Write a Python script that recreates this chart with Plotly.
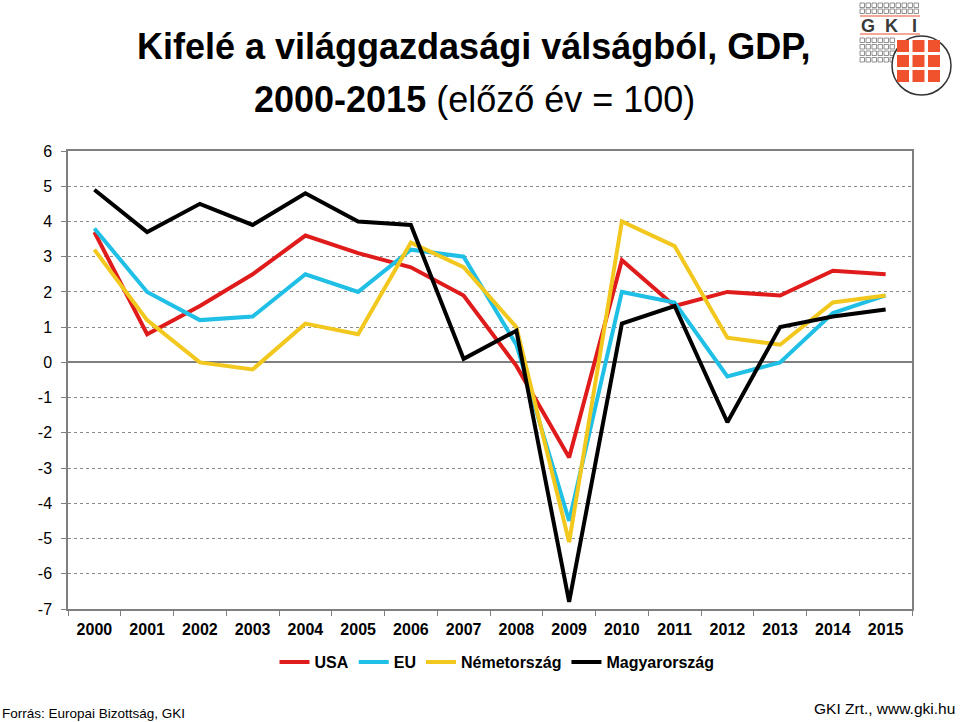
import plotly.graph_objects as go

years = [str(y) for y in range(2000, 2016)]
usa = [3.7, 0.8, 1.6, 2.5, 3.6, 3.1, 2.7, 1.9, -0.1, -2.7, 2.9, 1.6, 2.0, 1.9, 2.6, 2.5]
eu = [3.8, 2.0, 1.2, 1.3, 2.5, 2.0, 3.2, 3.0, 0.5, -4.5, 2.0, 1.7, -0.4, 0.0, 1.4, 1.9]
germany = [3.2, 1.2, 0.0, -0.2, 1.1, 0.8, 3.4, 2.7, 1.0, -5.1, 4.0, 3.3, 0.7, 0.5, 1.7, 1.9]
hungary = [4.9, 3.7, 4.5, 3.9, 4.8, 4.0, 3.9, 0.1, 0.9, -6.8, 1.1, 1.6, -1.7, 1.0, 1.3, 1.5]
y_ticks = list(range(-7, 7))
y_tick_text = [str(v) for v in y_ticks]

series = [
    ("USA", usa, "#e01b1b"),
    ("EU", eu, "#1fbfe6"),
    ("Németország", germany, "#f2c81e"),
    ("Magyarország", hungary, "#000000"),
]

FONT = "Liberation Sans, Arial, sans-serif"
W, H = 960, 722
PL, PR, PT, PB = 68, 912, 151, 609


def px(x):
    return (x - PL) / (PR - PL)


def py(y):
    return (PB - y) / (PB - PT)


fig = go.Figure()
for name, vals, col in series:
    fig.add_trace(go.Scatter(x=years, y=vals, name="<b>%s</b>" % name, mode="lines",
                             line=dict(color=col, width=4)))

fig.update_layout(
    width=W, height=H,
    margin=dict(l=PL, r=W - PR, t=PT, b=H - PB),
    paper_bgcolor="white", plot_bgcolor="white",
    showlegend=True,
    legend=dict(orientation="h", x=px(497), xanchor="center", y=py(662), yanchor="middle",
                font=dict(family=FONT, size=16, color="black"),
                itemwidth=30, traceorder="normal"),
    font=dict(family=FONT, color="black"),
)
fig.update_xaxes(type="category", range=[-0.5, len(years) - 0.5], showline=True,
                 linecolor="#7f7f7f", linewidth=1.5,
                 mirror=True, ticks="outside", tickson="boundaries", ticklen=5,
                 tickcolor="#7f7f7f", showgrid=False, ticklabelstandoff=5,
                 tickfont=dict(family=FONT, size=16, color="black"),
                 tickprefix="<b>", ticksuffix="</b>")
fig.update_yaxes(range=[-7, 6], tickvals=y_ticks, ticktext=y_tick_text, showline=True,
                 linecolor="#7f7f7f", linewidth=1.5, mirror=True, ticks="outside",
                 ticklen=5, tickcolor="#7f7f7f", showgrid=True, gridcolor="#8a8a8a",
                 griddash="dot", gridwidth=1, zeroline=True, zerolinecolor="#7f7f7f",
                 zerolinewidth=1.5, ticklabelstandoff=6,
                 tickfont=dict(family=FONT, size=16, color="black"),
                 tickprefix="<b>", ticksuffix="</b>")

# Title
fig.add_annotation(xref="paper", yref="paper", x=px(474), y=py(47),
                   xanchor="center", yanchor="middle", showarrow=False,
                   text="<b>Kifelé a világgazdasági válságból, GDP,</b>",
                   font=dict(family=FONT, size=36, color="black"))
fig.add_annotation(xref="paper", yref="paper", x=px(474), y=py(100),
                   xanchor="center", yanchor="middle", showarrow=False,
                   text="<b>2000-2015</b> (előző év = 100)",
                   font=dict(family=FONT, size=36, color="black"))

# Footer texts
fig.add_annotation(xref="paper", yref="paper", x=px(0), y=py(713), xanchor="left",
                   yanchor="middle", showarrow=False,
                   text="Forrás: Europai Bizottság, GKI",
                   font=dict(family=FONT, size=13.5, color="black"))
fig.add_annotation(xref="paper", yref="paper", x=px(957), y=py(708), xanchor="right",
                   yanchor="middle", showarrow=False,
                   text="GKI Zrt., www.gki.hu",
                   font=dict(family=FONT, size=15.5, color="black"))

# Logo (decorative)
shapes = []
for row_y in [3, 9]:
    for i in range(10):
        x0 = 860 + i * 6
        shapes.append(dict(type="rect", xref="paper", yref="paper",
                           x0=px(x0), x1=px(x0 + 4.5), y0=py(row_y + 4.5), y1=py(row_y),
                           line=dict(color="#777777", width=0.8), fillcolor="white"))
for row_y in [38, 44.5, 51, 57.5]:
    for i in range(6):
        x0 = 860 + i * 6
        shapes.append(dict(type="rect", xref="paper", yref="paper",
                           x0=px(x0), x1=px(x0 + 4.5), y0=py(row_y + 4.5), y1=py(row_y),
                           line=dict(color="#777777", width=0.8), fillcolor="white"))
for ly in [16, 34]:
    shapes.append(dict(type="line", xref="paper", yref="paper",
                       x0=px(860), x1=px(920), y0=py(ly), y1=py(ly),
                       line=dict(color="#e8502e", width=1.2)))
shapes.append(dict(type="circle", xref="paper", yref="paper",
                   x0=px(892), x1=px(951), y0=py(95), y1=py(36),
                   line=dict(color="#333333", width=1.5), fillcolor="white"))
for r in range(3):
    for c in range(3):
        x0 = 897 + c * 15.5
        y0 = 40 + r * 15
        shapes.append(dict(type="rect", xref="paper", yref="paper",
                           x0=px(x0), x1=px(x0 + 12), y0=py(y0 + 12), y1=py(y0),
                           line=dict(width=0), fillcolor="#f0522e"))
fig.update_layout(shapes=shapes)
for letter, lx in [("G", 868), ("K", 891), ("I", 914.5)]:
    fig.add_annotation(xref="paper", yref="paper", x=px(lx), y=py(25.5), xanchor="center",
                       yanchor="middle", showarrow=False,
                       text="<b>%s</b>" % letter,
                       font=dict(family=FONT, size=18, color="#3a3a3a"))

fig.write_html("out.html",
               config={"displayModeBar": False},
               post_script="document.body.style.margin='0px';document.body.style.overflow='hidden';")
